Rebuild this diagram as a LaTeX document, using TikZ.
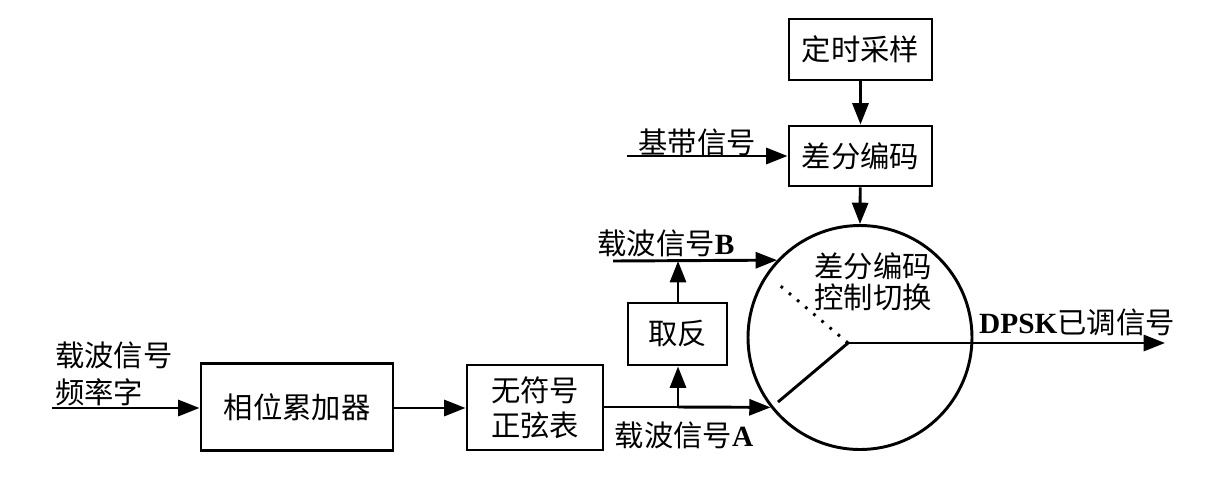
\documentclass[tikz,border=0pt]{standalone}
\usepackage{fontspec}
\setmainfont{Noto Sans CJK SC}
\newfontfamily\tnr{Liberation Serif}
\usetikzlibrary{arrows.meta}
\newcommand{\lat}[1]{{\tnr\bfseries #1}}
\begin{document}
\begin{tikzpicture}[x=0.75pt,y=-0.75pt,
  every node/.style={font=\fontsize{22}{26}\selectfont,inner sep=0pt},
  box/.style={draw,line width=2.2pt,inner sep=0pt},
  conn/.style={line width=2.2pt,-{Triangle[length=16pt,width=12pt]}},
  wire/.style={line width=2.2pt}]
\useasboundingbox (0,0) rectangle (1210,480);
% boxes
\node[box,minimum width=107.25pt,minimum height=45.75pt] (tim) at (860.5,49.5) {定时采样};
\node[box,minimum width=107.25pt,minimum height=45pt] (dif) at (860.5,156) {差分编码};
\node[box,minimum width=74.25pt,minimum height=46.5pt] (inv) at (677.5,334) {取反};
\node[box,minimum width=102pt,minimum height=63.75pt,align=center,font=\fontsize{22}{26.5}\selectfont] (sin) at (535,407.5) {无符号\\正弦表};
\node[box,minimum width=144pt,minimum height=65.25pt] (acc) at (297,407) {相位累加器};
% switch circle
\node[circle,draw,line width=2.2pt,minimum size=168pt] (sw) at (860,337.5) {};
\node[align=center,font=\fontsize{22}{23.25}\selectfont] (swt) at (873,282) {差分编码\\控制切换};
\coordinate (piv) at (848,343);
\coordinate (swa) at (778,402);
\coordinate (dote) at (777,283);
\coordinate (out) at (1165,343);
\draw[wire] (piv) -- (swa);
\draw[line width=2.2pt,dash pattern=on 2pt off 6pt] (piv) -- (dote);
\draw[conn] (piv) -- (out);
\node (dpsk) at (1077,322) {\lat{DPSK}已调信号};
% free ends
\coordinate (bbin) at (627,156);
\coordinate (fin) at (52,408);
\coordinate (bin) at (613,261);
\coordinate (ja) at (678,407);
\coordinate (jb) at (678,261);
% connectors
\draw[conn] (tim) -- (dif);
\draw[conn] (dif) -- (sw.north);
\draw[conn] (bbin) -- (dif.west |- bbin);
\draw[conn] (fin) -- (acc.west |- fin);
\draw[conn] (acc.east |- fin) -- (sin.west |- fin);
\draw[wire] (sin.east |- ja) -- (ja);
\draw[conn] (ja) -- (sw.218);
\draw[conn] (ja) -- (inv.south -| ja);
\draw[conn] (inv.north -| jb) -- (jb);
\draw[conn] (bin) -- (sw.137);
% labels
\node (lbb) at (697,142) {基带信号};
\node (lb) at (666,243) {载波信号\lat{B}};
\node (la) at (684,435) {载波信号\lat{A}};
\node[anchor=west] (lf1) at (55,355) {载波信号};
\node[anchor=west] (lf2) at (55,392) {频率字};
\end{tikzpicture}
\end{document}
